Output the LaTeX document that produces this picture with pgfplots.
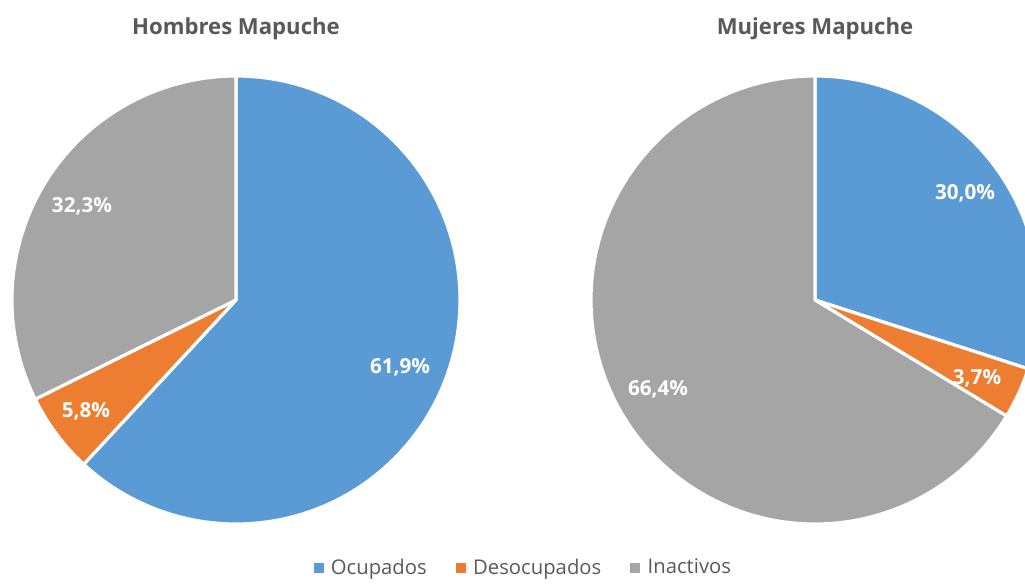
\documentclass[border=0pt]{standalone}
\usepackage{pgfplots}
\usepackage{pgfplotstable}
\pgfplotsset{compat=1.18}
\usepackage{fontspec}
\setmainfont{Open Sans}
\definecolor{cOc}{HTML}{5B9BD5}
\definecolor{cDe}{HTML}{ED7D31}
\definecolor{cIn}{HTML}{A5A5A5}
\definecolor{txt}{HTML}{595959}
\pgfplotstableread{
cat hombres mujeres
Ocupados 61.9 30.0
Desocupados 5.8 3.7
Inactivos 32.3 66.4
}\pies
\newcommand\getv[3]{\pgfplotstablegetelem{#1}{#2}\of\pies\let#3\pgfplotsretval}
\getv{0}{hombres}\hO \getv{1}{hombres}\hD \getv{2}{hombres}\hI
\getv{0}{mujeres}\mO \getv{1}{mujeres}\mD \getv{2}{mujeres}\mI
\pgfmathsetmacro\hS{\hO+\hD+\hI}
\pgfmathsetmacro\mS{\mO+\mD+\mI}
\pgfmathsetmacro\hA{90-360*(\hO/\hS)}
\pgfmathsetmacro\hB{\hA-360*(\hD/\hS)}
\pgfmathsetmacro\mA{90-360*(\mO/\mS)}
\pgfmathsetmacro\mB{\mA-360*(\mD/\mS)}
% slice: cx, cy, a1, a2, colour
\newcommand\pieslice[5]{\fill[#5, draw=white, line width=2.4pt, line join=round]
  (axis cs:#1,#2) -- (axis cs:{#1+224*cos(#3)},{#2+224*sin(#3)})
  arc[start angle=#3, end angle=#4, radius=168pt] -- cycle;}
\begin{document}
\begin{tikzpicture}
\begin{axis}[
  width=768.75pt, height=437.25pt, scale only axis,
  xmin=0, xmax=1025, ymin=0, ymax=583,
  hide axis, clip=true,
  legend style={at={(0.511,0.002)}, anchor=south, draw=none, fill=none,
    font=\fontsize{15.2}{17}\selectfont\color{txt},
    /tikz/every odd column/.append style={column sep=4pt},
    /tikz/every even column/.append style={column sep=20pt}},
  legend columns=3,
  legend cell align=left,
]
\addlegendimage{only marks, mark=square*, mark size=3.4pt, color=cOc}
\addlegendentry{Ocupados}
\addlegendimage{only marks, mark=square*, mark size=3.4pt, color=cDe}
\addlegendentry{Desocupados}
\addlegendimage{only marks, mark=square*, mark size=3.4pt, color=cIn}
\addlegendentry{Inactivos}
\pieslice{236}{283}{90}{\hA}{cOc}
\pieslice{236}{283}{\hA}{\hB}{cDe}
\pieslice{236}{283}{\hB}{-270}{cIn}
\pieslice{815}{283}{90}{\mA}{cOc}
\pieslice{815}{283}{\mA}{\mB}{cDe}
\pieslice{815}{283}{\mB}{-270}{cIn}
\tikzset{lab/.style={font=\bfseries\fontsize{15.5}{17}\selectfont, text=white}}
\node[lab] at (axis cs:400,216) {61,9\%};
\node[lab] at (axis cs:86,172) {5,8\%};
\node[lab] at (axis cs:82,377) {32,3\%};
\node[lab] at (axis cs:965,390) {30,0\%};
\node[lab] at (axis cs:977,205) {3,7\%};
\node[lab] at (axis cs:658,194) {66,4\%};
\tikzset{ttl/.style={font=\bfseries\fontsize{16.6}{19}\selectfont, text=txt}}
\node[ttl] at (axis cs:236,554) {Hombres Mapuche};
\node[ttl] at (axis cs:815,554) {Mujeres Mapuche};
\end{axis}
\pgfresetboundingbox
\useasboundingbox (current axis.south west) rectangle (current axis.north east);
\end{tikzpicture}
\end{document}
